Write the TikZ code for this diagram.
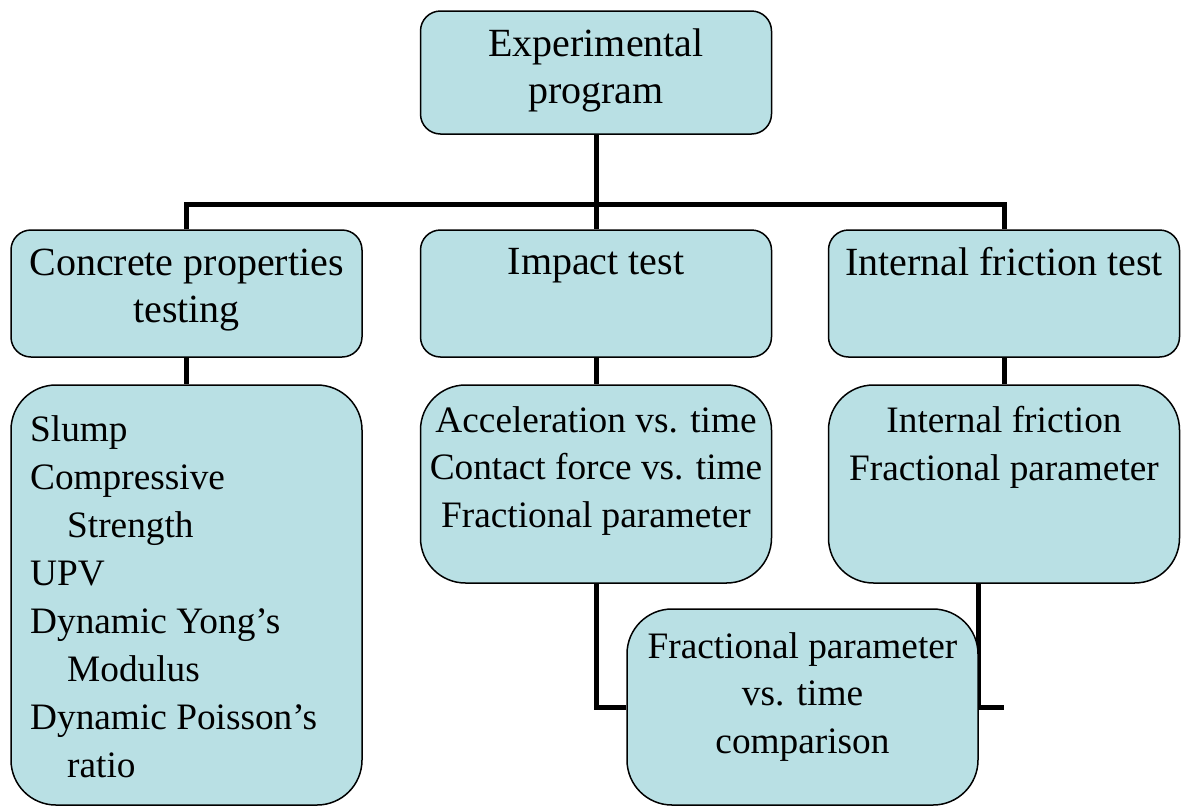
\documentclass[tikz,border=0pt]{standalone}
\usepackage{fontspec}
\setmainfont{Liberation Serif}
\definecolor{boxfill}{RGB}{185,224,228}
\pgfdeclarelayer{background}
\pgfsetlayers{background,main}
\begin{document}
\begin{tikzpicture}[x=1pt,y=-1pt,
  box/.style={draw=black,line width=1.5pt,fill=boxfill,rounded corners=20pt,inner sep=0pt,minimum width=351pt},
  bigbox/.style={box,rounded corners=45pt},
  txt/.style={inner sep=0pt,font=\fontsize{40}{47}\selectfont,align=center},
  stxt/.style={inner sep=0pt,font=\fontsize{37.3}{47.3}\selectfont,align=center},
  ltxt/.style={inner sep=0pt,font=\fontsize{37.3}{47.9}\selectfont,align=left},
  conn/.style={line width=5pt,draw=black}]
\useasboundingbox (0,0) rectangle (1181,807);
% boxes
\node[box,minimum height=123pt] (top) at (596,72.5) {};
\node[box,minimum height=127pt] (l2a) at (186.5,293.5) {};
\node[box,minimum height=127pt] (l2b) at (596,293.5) {};
\node[box,minimum height=127pt] (l2c) at (1004,293.5) {};
\node[bigbox,minimum height=420pt] (l3a) at (186.5,595) {};
\node[bigbox,minimum height=198pt] (l3b) at (596,484) {};
\node[bigbox,minimum height=198pt] (l3c) at (1004,484) {};
\node[bigbox,minimum height=196pt] (bot) at (802.5,707) {};
\coordinate (bus) at (596,204);
% connectors (behind boxes)
\begin{pgfonlayer}{background}
\draw[conn] (top.south) -- (bus);
\draw[conn] (l2a.north) |- (bus) -| (l2c.north);
\draw[conn] (bus) -- (l2b.north);
\draw[conn] (l2a.south) -- (l3a.north);
\draw[conn] (l2b.south) -- (l3b.north);
\draw[conn] (l2c.south) -- (l3c.north);
\draw[conn] (l3b.south) |- (bot.west);
\draw[conn] (l3c.south -| bot.east) -- (bot.east) -- (bot.east -| l3c.south);
\end{pgfonlayer}
% texts (anchored at the baseline of the last line)
\node[txt,anchor=base] (ttop) at (596,103) {Experimental\\program};
\node[txt,anchor=base] (tl2a) at (186.5,322) {Concrete properties\\testing};
\node[txt,anchor=base] (tl2b) at (596,274) {Impact test};
\node[txt,anchor=base] (tl2c) at (1004,275) {Internal friction test};
\node[ltxt,anchor=base west] (tl3a) at (30,777) {Slump\\Compressive\\\hspace*{37pt}Strength\\UPV\\Dynamic Yong’s\\\hspace*{37pt}Modulus\\Dynamic Poisson’s\\\hspace*{37pt}ratio};
\node[stxt,anchor=base] (tl3b) at (596,527) {Acceleration vs. time\\Contact force vs. time\\Fractional parameter};
\node[stxt,anchor=base] (tl3c) at (1004,480) {Internal friction\\Fractional parameter};
\node[stxt,anchor=base] (tbot) at (802.5,753) {Fractional parameter\\vs. time\\comparison};
\end{tikzpicture}
\end{document}
